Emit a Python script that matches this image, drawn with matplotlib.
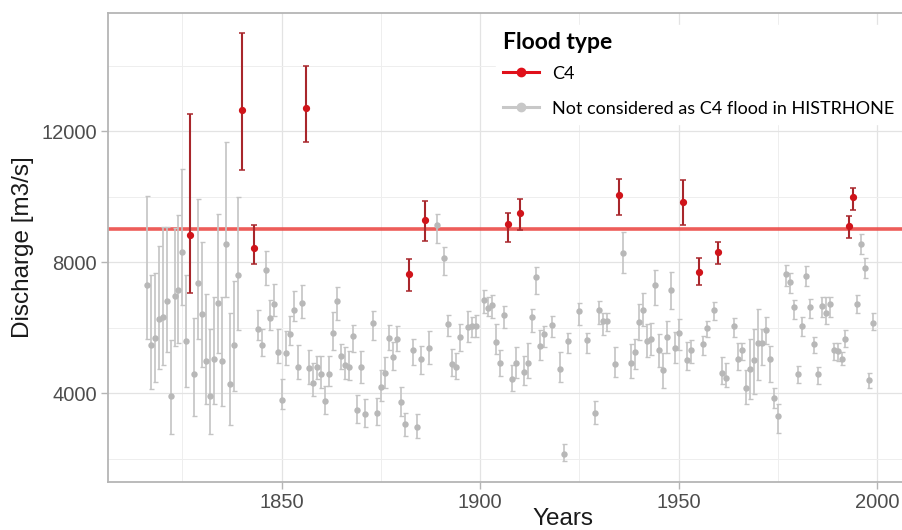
import matplotlib
matplotlib.use('Agg')
import matplotlib.pyplot as plt
from matplotlib.lines import Line2D
from matplotlib.ticker import MultipleLocator
import numpy as np

# C4 floods (red): year, discharge, lower / upper bound of the interval
c4_years = [1827, 1840, 1843, 1856, 1882, 1886, 1907, 1910, 1935, 1951, 1955, 1960, 1993, 1994]
c4_q = [8825, 12640, 8440, 12720, 7655, 9300, 9160, 9505, 10065, 9845, 7705, 8315, 9100, 9995]
c4_lo = [7075, 10830, 7960, 11685, 7115, 8640, 8620, 8980, 9455, 9130, 7300, 7960, 8755, 9610]
c4_hi = [12540, 14985, 9150, 13985, 8090, 9875, 9515, 9925, 10535, 10525, 8115, 8620, 9415, 10280]

# other floods (grey)
oth_years = [1816, 1817, 1818, 1819, 1820, 1821, 1822, 1823, 1824, 1825,
             1826, 1828, 1829, 1830, 1831, 1832, 1833, 1834, 1835, 1836,
             1837, 1838, 1839, 1844, 1845, 1846, 1847, 1848, 1849, 1850,
             1851, 1852, 1853, 1854, 1855, 1857, 1858, 1859, 1860, 1861,
             1862, 1863, 1864, 1865, 1866, 1867, 1868, 1869, 1870, 1871,
             1873, 1874, 1875, 1876, 1877, 1878, 1879, 1880, 1881, 1883,
             1884, 1885, 1887, 1889, 1891, 1892, 1893, 1894, 1895, 1897,
             1898, 1899, 1901, 1902, 1903, 1904, 1905, 1906, 1908, 1909,
             1911, 1912, 1913, 1914, 1915, 1916, 1918, 1920, 1921, 1922,
             1925, 1927, 1929, 1930, 1931, 1932, 1934, 1936, 1938, 1939,
             1940, 1941, 1942, 1943, 1944, 1945, 1946, 1947, 1948, 1949,
             1950, 1952, 1953, 1956, 1957, 1959, 1961, 1962, 1964, 1965,
             1966, 1967, 1968, 1969, 1970, 1971, 1972, 1973, 1974, 1975,
             1977, 1978, 1979, 1980, 1981, 1982, 1983, 1984, 1985, 1986,
             1987, 1988, 1989, 1990, 1991, 1992, 1995, 1996, 1997, 1998,
             1999]
oth_q = [7300, 5465, 5700, 6280, 6330, 6810, 3920, 6960, 7165, 8315,
         5600, 4580, 7370, 6405, 4990, 3920, 5040, 6770, 4990, 8570,
         4275, 5465, 7605, 5975, 5465, 7755, 6310, 6740, 5265, 3790,
         5215, 5800, 6555, 4790, 6760, 4775, 4320, 4790, 4580, 3765,
         4580, 5845, 6820, 5130, 4855, 4805, 5740, 3480, 4790, 3380,
         6130, 3400, 4180, 4625, 5700, 5110, 5670, 3735, 3055, 5315,
         2975, 5060, 5385, 9130, 8115, 6110, 4885, 4790, 5720, 6025,
         6045, 6065, 6860, 6615, 6690, 5570, 4930, 6385, 4420, 4930,
         4655, 4910, 6330, 7555, 5435, 5800, 6075, 4755, 2160, 5590,
         6515, 5620, 3400, 6535, 6210, 6210, 4885, 8285, 4930, 5245,
         6180, 6555, 5600, 5650, 7300, 5335, 4705, 5720, 7165, 5395,
         5825, 5030, 5315, 5490, 5995, 6555, 4625, 4470, 6045, 5060,
         5315, 4165, 4755, 5010, 5540, 5520, 5925, 5060, 3840, 3310,
         7635, 7400, 6635, 4580, 6055, 7575, 6635, 5490, 4580, 6670,
         6435, 6710, 5315, 5295, 5060, 5670, 6740, 8570, 7810, 4400,
         6160]
oth_lo = [5670, 4115, 4330, 4725, 4855, 5260, 2770, 5435, 5520, 6690,
          4195, 3300, 5670, 4805, 3685, 2750, 3665, 5230, 3605, 6940,
          3025, 4075, 5945, 5620, 5130, 7320, 5925, 6350, 4930, 3515,
          4855, 5465, 6210, 4420, 6310, 4295, 3910, 4420, 4145, 3380,
          4215, 5315, 6250, 4755, 4420, 4400, 5265, 3095, 4320, 2975,
          5620, 3045, 3765, 4145, 5315, 4700, 5290, 3300, 2700, 4855,
          2640, 4600, 4900, 8590, 7625, 5740, 4520, 4420, 5295, 5570,
          5720, 5720, 6455, 6350, 6310, 5190, 4520, 6005, 4075, 4480,
          4245, 4480, 5875, 7045, 5010, 5415, 5720, 4345, 1935, 5215,
          6075, 5215, 3075, 6110, 5770, 5900, 4500, 7675, 4480, 4755,
          5620, 6045, 5110, 5160, 6690, 4805, 4175, 5235, 6585, 4910,
          5315, 4705, 4910, 5160, 5720, 6250, 4295, 4195, 5720, 4705,
          5010, 3685, 3810, 3990, 4400, 4855, 5495, 4345, 3535, 2790,
          7270, 7065, 6280, 4320, 5740, 7270, 6310, 5215, 4295, 6330,
          6110, 6330, 5010, 4990, 4855, 5415, 6435, 8265, 7505, 4145,
          5925]
oth_hi = [10015, 7605, 7675, 8490, 9080, 9080, 5640, 9060, 9435, 10860,
          7605, 6310, 9945, 8620, 7045, 5975, 6940, 9465, 6940, 11675,
          6455, 7430, 9995, 6555, 5975, 8345, 6860, 7330, 5975, 4420,
          5905, 6350, 7115, 5465, 7320, 5335, 4910, 5130, 5130, 4215,
          5130, 6485, 7250, 5490, 5415, 5300, 6075, 3960, 5295, 3810,
          6515, 3840, 4705, 5110, 6075, 5560, 6060, 4180, 3400, 5670,
          3380, 5450, 5900, 9485, 8470, 6385, 5365, 5235, 6110, 6515,
          6330, 6385, 7145, 6940, 6995, 6110, 5315, 6655, 4855, 5415,
          5130, 5520, 6585, 7840, 5925, 6045, 6350, 5265, 2445, 5845,
          6760, 5845, 3765, 6820, 6435, 6450, 5415, 8925, 5495, 5670,
          6720, 7065, 6110, 6130, 7775, 5800, 5235, 6210, 7705, 5875,
          6280, 5570, 5640, 5740, 6210, 6790, 5110, 4930, 6310, 5540,
          5540, 4705, 5670, 5975, 6585, 5975, 6330, 5435, 4175, 3665,
          7910, 7675, 6860, 4825, 6330, 7880, 6890, 5720, 4805, 6940,
          6940, 6940, 5540, 5520, 5265, 5925, 6995, 8875, 8115, 4625,
          6435]

threshold = 9000

title_legend = 'Flood type'
label_c4 = 'C4'
label_other = 'Not considered as C4 flood in HISTRHONE'

plt.rcParams['font.family'] = ['Liberation Sans', 'DejaVu Sans']

fig = plt.figure(figsize=(9.02, 5.30), dpi=100)
# axes run a little past the right edge, as in the cropped original
ax = fig.add_axes([108/902, 48/530, 801/902, 469/530])

# grey floods
oq = np.array(oth_q)
ax.errorbar(oth_years, oq, yerr=[oq - np.array(oth_lo), np.array(oth_hi) - oq],
            fmt='o', color='#B8B8B8', ecolor='#C4C4C4', elinewidth=1.2,
            capsize=1.8, capthick=1.0, markersize=3.6, zorder=3)

# threshold line
ax.axhline(threshold, color='#EC4B48', lw=2.6, alpha=0.9, zorder=2)

# C4 floods
cq = np.array(c4_q)
ax.errorbar(c4_years, cq, yerr=[cq - np.array(c4_lo), np.array(c4_hi) - cq],
            fmt='o', color='#D0141A', ecolor='#A8262B', elinewidth=1.5,
            capsize=2.0, capthick=1.1, markersize=4.2, zorder=4)

ax.set_xlim(1806.25, 2008)
ax.set_ylim(1290, 15610)
ax.xaxis.set_major_locator(MultipleLocator(50))
ax.xaxis.set_minor_locator(MultipleLocator(25))
ax.yaxis.set_major_locator(MultipleLocator(4000))
ax.yaxis.set_minor_locator(MultipleLocator(2000))

ax.grid(which='major', color='#E3E3E3', lw=0.9, zorder=0)
ax.grid(which='minor', color='#EEEEEE', lw=0.7, zorder=0)
ax.set_axisbelow(True)

for s in ax.spines.values():
    s.set_color('#B5B5B5')
    s.set_linewidth(1.3)

ax.tick_params(which='major', length=5, width=1.0, color='#B5B5B5',
               labelsize=14.5, labelcolor='#4D4D4D', pad=3)
ax.tick_params(which='minor', length=0)

# the original panel was wider than the crop, so the x title sits right of centre
ax.set_xlabel('Years', fontsize=17.5, color='#1A1A1A')
ax.xaxis.set_label_coords(0.568, -0.056)
ax.set_ylabel('Discharge [m3/s]', fontsize=17.5, color='#1A1A1A', labelpad=5)

handles = [
    Line2D([], [], color='#E0101A', lw=2.2, marker='o', markersize=6),
    Line2D([], [], color='#C8C8C8', lw=2.2, marker='o', markersize=6),
]
leg = ax.legend(handles, [label_c4, label_other], title=title_legend,
                loc='upper left', bbox_to_anchor=(487/902, 1 - 16/530),
                bbox_transform=fig.transFigure, frameon=True, fancybox=False,
                edgecolor='white', facecolor='white', framealpha=1.0,
                prop={'family': 'Lato', 'size': 13.0},
                title_fontproperties={'family': 'Lato', 'weight': 'bold', 'size': 16.5},
                alignment='left', handlelength=2.0, handletextpad=0.7,
                labelspacing=1.05, borderpad=0.4)
# tighter gap between the title and the first entry
leg._legend_box.sep = 9
leg.set_zorder(6)

fig.savefig('out.png', dpi=100)
